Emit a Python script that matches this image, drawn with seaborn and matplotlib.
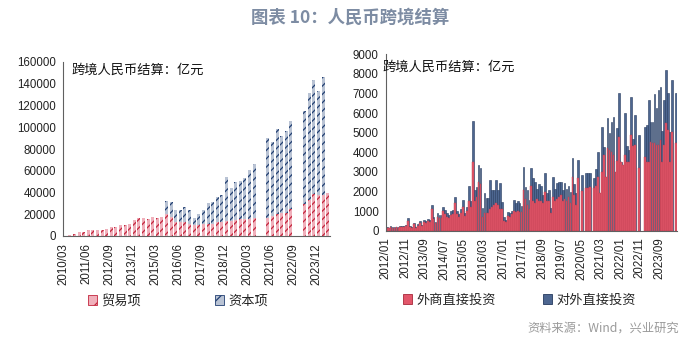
import numpy as np
import pandas as pd
import matplotlib
matplotlib.use("Agg")
import matplotlib.pyplot as plt
import seaborn as sns
from matplotlib.patches import Patch

sns.set_theme(style="white")
plt.rcParams['font.family'] = ['Liberation Sans', 'Noto Sans CJK SC', 'DejaVu Sans']
plt.rcParams['hatch.linewidth'] = 0.9

nan = np.nan

# ---------------- Left chart data (quarterly) ----------------
q_labels = [f"{y}/{m:02d}" for y in range(2010, 2025) for m in (3, 6, 9, 12)][:58]
trade = [300, 600, 1500, 3400, 4000, 5800, 5800, 5500, 5800, 6800, 8000, 8600,
         10100, 10500, 11400, 14800, 16300, 16300, 15700, 17200, 16600, 17500,
         20600, 17800, 12900, 12600, 12900, 11400, 9800, 9800, 10800, 10800,
         11400, 12600, 13200, 13500, 13500, 14500, 16000, 16000, 16000, 16600,
         nan, nan, 16600, 18500, 20000, 21200, 21500, 25200, nan, nan,
         29800, 33500, 38500, 37500, 37500, 40000]
capital = [nan] * 22 + [12000, 13900, 10800, 11700, 13900, 12300, 7100, 10800,
           12900, 20000, 20300, 23100, 24300, 40300, 30200, 34700, 34800, 36900,
           44600, 49200, nan, nan, 73200, 67700, 78200, 70800, 75400, 80600,
           nan, nan, 84700, 97900, 105200, 96000, 108300, nan]
q_ticks = ["2010/03", "2011/06", "2012/09", "2013/12", "2015/03", "2016/06",
           "2017/09", "2018/12", "2020/03", "2021/06", "2022/09", "2023/12"]

# ---------------- Right chart data (monthly) ----------------
m_labels = [f"{y}/{m:02d}" for y in range(2012, 2025) for m in range(1, 13)][:149]
fdi = [140, 130, 180, 160, 160, 170, 140, 190, 210, 190, 240, 520,
       200, 150, 330, 160, 260, 390, 250, 450, 400, 480, 450, 1100,
       600, 380, 720, 660, 650, 980, 850, 700, 640, 780, 850, 1390,
       850, 700, 900, 1200, 750, 1000, 1500, 1200, 3500, 1500, 1700, 2500,
       2400, 700, 900, 900, 900, 1100, 1200, 1300, 1400, 1300, 1100, 1100,
       520, 420, 750, 700, 850, 1000, 950, 1000, 950, 950, 2100, 1600,
       1300, 1100, 2300, 1500, 1400, 1600, 1500, 1500, 1400, 1950, 1500, 1500,
       900, 1700, 1500, 1600, 1700, 1800, 1500, 1600, 1500, 1700, 1400, 2750,
       1800, 1300, 2670, nan, 2020, nan, 2200, 2200, 2240, nan, 2200, 2300,
       2750, 1900, 3010, 3860, 2750, 4200, 4110, 4030, 3860, 3010, 3570, 4790,
       3520, 3350, 3860, 3520, 3520, 4880, 4320, 4370, nan, 3180, nan, nan,
       3770, 3520, 3520, 4540, 4450, 4450, 4370, 4370, 4620, 3520, 4370, 5470,
       5130, 3520, 5050, nan, 4490]
odi = [30, 30, 40, 40, 30, 40, 30, 40, 50, 50, 60, 130,
       50, 30, 70, 40, 60, 80, 50, 90, 80, 120, 100, 200,
       120, 80, 160, 140, 150, 240, 200, 180, 160, 200, 200, 310,
       150, 150, 200, 350, 150, 220, 800, 300, 2100, 600, 550, 850,
       780, 450, 1000, 750, 750, 1500, 900, 800, 1180, 800, 1350, 380,
       180, 120, 220, 180, 170, 560, 440, 500, 440, 310, 1160, 640,
       770, 460, 880, 1170, 1100, 550, 900, 800, 420, 970, 400, 570,
       240, 1050, 650, 810, 800, 700, 570, 810, 650, 600, 600, 940,
       600, 600, 930, nan, 840, nan, 760, 760, 720, nan, 470, 860,
       1280, 0, 2260, 390, 0, 1530, 850, 1530, 1920, 0, 1650, 2250,
       0, 0, 2160, 800, 590, 1950, 340, 1530, nan, 1700, nan, nan,
       1530, 1870, 3140, 1020, 1110, 2500, 1870, 2800, 2720, 1580, 2290, 2720,
       1910, 1530, 2630, nan, 2550]
m_ticks = ["2012/01", "2012/11", "2013/09", "2014/07", "2015/05", "2016/03",
           "2017/01", "2017/11", "2018/09", "2019/07", "2020/05", "2021/03",
           "2022/01", "2022/11", "2023/09"]

# ---------------- Figure ----------------
W, H = 700, 351
fig = plt.figure(figsize=(7.0, 3.51), dpi=100)

def fx(px):
    return px / W

def fy(py):
    return 1 - py / H

CJK = ['Noto Sans CJK SC', 'DejaVu Sans']
spine_c = '#606060'

fig.text(0.5, fy(18), "图表 10：人民币跨境结算", ha='center', va='center',
         fontsize=12.5, color='#7d8ca3', fontweight='bold', family=CJK)

# ---- Left axes ----
axL = fig.add_axes([fx(63), fy(236), fx(330) - fx(63), fy(62) - fy(236)])
dfL = pd.DataFrame({"q": q_labels,
                    "trade": trade,
                    "total": np.array(trade, float) + np.array(capital, float)})
sns.barplot(data=dfL, x="q", y="total", order=q_labels, ax=axL, color='#b9c3d4',
            saturation=1, width=0.65, errorbar=None, hatch='////',
            edgecolor='#223f72', linewidth=0)
sns.barplot(data=dfL, x="q", y="trade", order=q_labels, ax=axL, color='#f0b0bb',
            saturation=1, width=0.65, errorbar=None, hatch='////',
            edgecolor='#c3263d', linewidth=0)
axL.set_ylim(0, 160000)
axL.set_xlim(-0.5, len(q_labels) - 0.5)
axL.set_yticks(np.arange(0, 160001, 20000))
axL.set_yticklabels([f"{v:d}" for v in range(0, 160001, 20000)], fontsize=8.3)
pos = [q_labels.index(t) - 0.5 for t in q_ticks]
axL.set_xticks(pos)
axL.set_xticklabels(q_ticks, rotation=90, fontsize=8.3)
axL.set_xlabel("")
axL.set_ylabel("")
axL.text(0.03, 0.955, "跨境人民币结算：亿元", transform=axL.transAxes, fontsize=9.5,
         family=CJK, va='center', ha='left', color='#111')

# ---- Right axes ----
axR = fig.add_axes([fx(385.7), fy(230.7), fx(677) - fx(385.7), fy(54.3) - fy(230.7)])
dfR = pd.DataFrame({"m": m_labels,
                    "fdi": fdi,
                    "total": np.array(fdi, float) + np.array(odi, float)})
sns.barplot(data=dfR, x="m", y="total", order=m_labels, ax=axR, color='#4d6690',
            saturation=1, width=0.9, errorbar=None, edgecolor='#263a5e', linewidth=0.4)
sns.barplot(data=dfR, x="m", y="fdi", order=m_labels, ax=axR, color='#e2566a',
            saturation=1, width=0.9, errorbar=None, edgecolor='#b83a4c', linewidth=0.3)
axR.set_ylim(0, 9000)
axR.set_xlim(-0.5, len(m_labels) - 0.5)
axR.set_yticks(np.arange(0, 9001, 1000))
axR.set_yticklabels([f"{v:d}" for v in range(0, 9001, 1000)], fontsize=8.3)
posR = [m_labels.index(t) - 0.5 for t in m_ticks]
axR.set_xticks(posR)
axR.set_xticklabels(m_ticks, rotation=90, fontsize=8.3)
axR.set_xlabel("")
axR.set_ylabel("")
axR.text(-0.01, 0.925, "跨境人民币结算：亿元", transform=axR.transAxes, fontsize=9.5,
         family=CJK, va='center', ha='left', color='#111')

for ax in (axL, axR):
    for s in ('top', 'right'):
        ax.spines[s].set_visible(False)
    for s in ('left', 'bottom'):
        ax.spines[s].set_color(spine_c)
        ax.spines[s].set_linewidth(0.8)
    ax.tick_params(axis='both', which='major', direction='out', length=3,
                   width=0.8, color=spine_c, pad=2, labelcolor='#222')
    ax.set_facecolor('white')
    ax.grid(False)

# ---- Legends ----
hL = [Patch(facecolor='#f0b0bb', edgecolor='#c3263d', hatch='//', linewidth=0.6),
      Patch(facecolor='#b9c3d4', edgecolor='#223f72', hatch='//', linewidth=0.6)]
legL = fig.legend(hL, ["贸易项", "资本项"], loc='center left',
                  bbox_to_anchor=(fx(76), fy(301)), ncol=2, frameon=False,
                  prop={'family': CJK, 'size': 9.5}, handlelength=0.7,
                  handleheight=0.7, handletextpad=0.3, columnspacing=5.6)
hR = [Patch(facecolor='#e2566a', edgecolor='#a8283a', linewidth=0.6),
      Patch(facecolor='#4d6690', edgecolor='#263a5e', linewidth=0.6)]
legR = fig.legend(hR, ["外商直接投资", "对外直接投资"], loc='center left',
                  bbox_to_anchor=(fx(391), fy(300)), ncol=2, frameon=False,
                  prop={'family': CJK, 'size': 9.5}, handlelength=0.7,
                  handleheight=0.7, handletextpad=0.3, columnspacing=3.6)

fig.text(fx(679), fy(328), "资料来源：Wind，兴业研究", ha='right', va='center',
         fontsize=8.8, color='#9a9a9a', family=CJK)

fig.savefig("out.png", dpi=100)
